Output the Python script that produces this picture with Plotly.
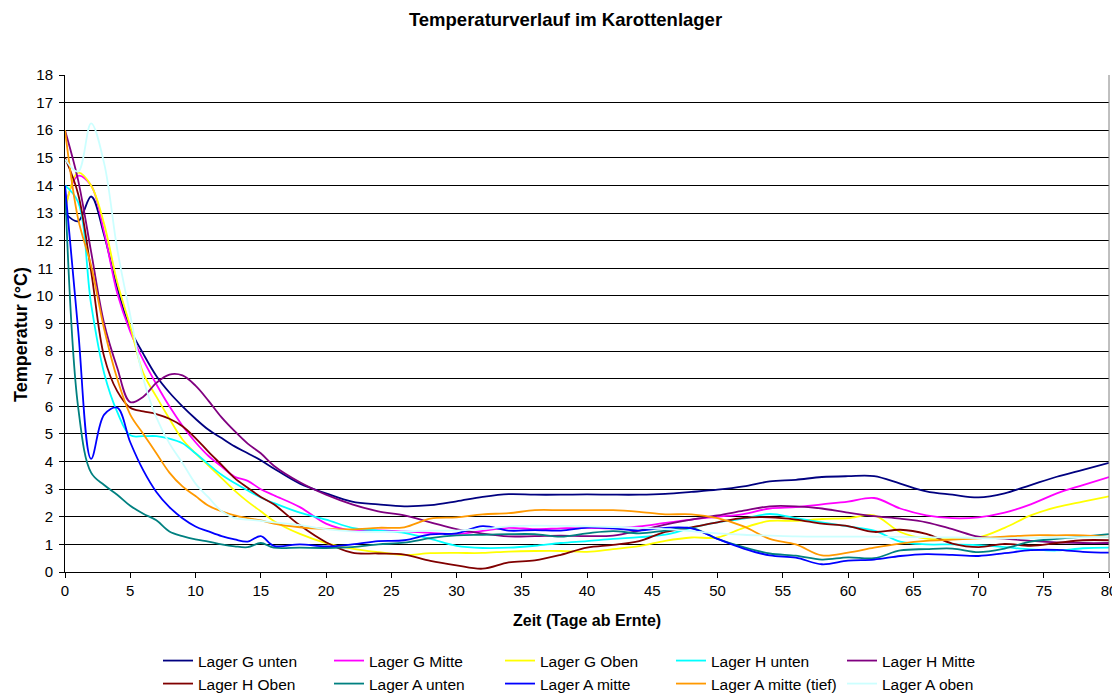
import plotly.graph_objects as go

days = [0, 1, 2, 3, 4, 5, 6, 7, 8, 9, 10, 11, 12, 13, 14, 15, 16,
        18, 20, 22, 24, 26, 28, 30, 32, 34, 36, 38, 40, 42, 44, 46, 48,
        50, 52, 54, 56, 58, 60, 62, 64, 66, 68, 70, 72, 74, 76, 78, 80]

g_unten = [13.0, 12.7, 13.6, 12.2, 10.3, 8.8, 7.9, 7.1, 6.5, 6.0, 5.55, 5.15, 4.85, 4.55, 4.3, 4.05, 3.75,
           3.2, 2.85, 2.55, 2.45, 2.38, 2.42, 2.56, 2.72, 2.82, 2.8, 2.8, 2.81, 2.8, 2.8, 2.83, 2.9,
           2.98, 3.1, 3.28, 3.34, 3.44, 3.47, 3.47, 3.2, 2.92, 2.8, 2.7, 2.85, 3.15, 3.45, 3.7, 3.95]
g_mitte = [13.2, 14.35, 14.0, 12.3, 10.1, 8.7, 7.67, 6.8, 6.0, 5.3, 4.7, 4.2, 3.82, 3.45, 3.3, 3.0, 2.78,
           2.35, 1.75, 1.5, 1.51, 1.47, 1.42, 1.38, 1.49, 1.6, 1.55, 1.58, 1.6, 1.58, 1.65, 1.78, 1.9,
           2.0, 2.1, 2.3, 2.35, 2.45, 2.55, 2.68, 2.3, 2.05, 1.95, 1.98, 2.15, 2.45, 2.85, 3.15, 3.44]
g_oben = [13.05, 14.46, 14.0, 12.6, 10.5, 8.9, 7.2, 6.35, 5.55, 4.8, 4.3, 3.85, 3.4, 2.95, 2.55, 2.2, 1.85,
          1.38, 1.05, 0.85, 0.72, 0.62, 0.68, 0.69, 0.69, 0.74, 0.76, 0.76, 0.73, 0.83, 0.94, 1.13, 1.25,
          1.25, 1.6, 1.85, 1.85, 1.92, 1.95, 2.05, 1.45, 1.21, 1.2, 1.25, 1.6, 2.05, 2.35, 2.55, 2.74]
h_unten = [14.0, 13.4, 9.7, 7.2, 5.8, 4.95, 4.92, 4.92, 4.83, 4.66, 4.3, 3.9, 3.52, 3.22, 2.95, 2.7, 2.5,
           2.15, 1.9, 1.6, 1.5, 1.42, 1.2, 0.95, 0.87, 0.88, 0.95, 1.05, 1.12, 1.2, 1.26, 1.35, 1.6,
           1.8, 1.93, 2.1, 1.95, 1.8, 1.65, 1.5, 1.1, 1.0, 1.0, 0.97, 0.9, 0.82, 0.78, 0.86, 0.88]
h_mitte = [16.0, 14.2, 11.6, 9.0, 7.4, 6.15, 6.35, 6.85, 7.15, 7.12, 6.75, 6.2, 5.6, 5.1, 4.65, 4.3, 3.85,
           3.25, 2.8, 2.45, 2.2, 2.05, 1.8, 1.55, 1.39, 1.29, 1.3, 1.32, 1.3, 1.32, 1.5, 1.72, 1.9,
           2.05, 2.22, 2.38, 2.38, 2.3, 2.15, 2.02, 1.93, 1.8, 1.55, 1.28, 1.21, 1.13, 1.07, 1.05, 1.05]
h_oben = [15.0, 13.7, 10.9, 7.8, 6.55, 5.95, 5.82, 5.72, 5.55, 5.28, 4.85, 4.35, 3.88, 3.4, 3.05, 2.72, 2.45,
          1.69, 1.08, 0.7, 0.67, 0.63, 0.4, 0.24, 0.12, 0.35, 0.42, 0.62, 0.88, 0.98, 1.12, 1.45, 1.62,
          1.8, 1.96, 1.98, 1.9, 1.75, 1.66, 1.45, 1.53, 1.38, 1.03, 0.9, 1.02, 0.95, 1.05, 1.15, 1.15]
a_unten = [14.0, 6.0, 3.6, 3.15, 2.8, 2.4, 2.11, 1.87, 1.47, 1.3, 1.18, 1.1, 1.0, 0.93, 0.9, 1.05, 0.88,
           0.88, 0.87, 0.9, 1.0, 1.06, 1.23, 1.33, 1.35, 1.37, 1.37, 1.28, 1.4, 1.48, 1.4, 1.5, 1.6,
           1.2, 0.9, 0.67, 0.59, 0.45, 0.53, 0.5, 0.78, 0.83, 0.85, 0.72, 0.85, 1.1, 1.2, 1.28, 1.37]
a_mitte = [14.0, 8.8, 4.1, 5.7, 5.95, 4.7, 3.68, 2.9, 2.35, 1.95, 1.65, 1.47, 1.3, 1.18, 1.1, 1.3, 0.95,
           1.0, 0.93, 1.0, 1.12, 1.15, 1.36, 1.4, 1.66, 1.5, 1.52, 1.5, 1.61, 1.58, 1.5, 1.6, 1.58,
           1.2, 0.85, 0.6, 0.52, 0.28, 0.41, 0.45, 0.58, 0.65, 0.62, 0.58, 0.68, 0.79, 0.8, 0.73, 0.7]
a_mitte_tief = [16.0, 12.8, 11.1, 8.8, 7.0, 5.7, 5.0, 4.3, 3.6, 3.1, 2.75, 2.4, 2.2, 2.05, 1.95, 1.87, 1.75,
                1.62, 1.56, 1.54, 1.6, 1.62, 1.93, 1.98, 2.09, 2.13, 2.24, 2.24, 2.24, 2.24, 2.18, 2.09, 2.09,
                1.95, 1.65, 1.2, 1.0, 0.6, 0.7, 0.88, 1.03, 1.13, 1.17, 1.22, 1.28, 1.33, 1.33, 1.33, 1.27]
a_oben = [14.95, 14.5, 16.25, 14.8, 11.7, 9.3, 7.0, 5.6, 4.66, 3.95, 3.2, 2.7, 2.2, 1.95, 1.9, 1.85, 1.8,
          1.7, 1.55, 1.47, 1.45, 1.47, 1.5, 1.5, 1.55, 1.65, 1.68, 1.67, 1.65, 1.63, 1.6, 1.55, 1.48,
          1.4, 1.35, 1.32, 1.29, 1.28, 1.28, 1.28, 1.27, 1.26, 1.25, 1.23, 1.22, 1.23, 1.25, 1.26, 1.27]

names = ["Lager G unten", "Lager G Mitte", "Lager G Oben", "Lager H unten", "Lager H Mitte",
         "Lager H Oben", "Lager A unten", "Lager A mitte", "Lager A mitte (tief)", "Lager A oben"]
series = [g_unten, g_mitte, g_oben, h_unten, h_mitte, h_oben, a_unten, a_mitte, a_mitte_tief, a_oben]
colors = ["#000080", "#FF00FF", "#FFFF00", "#00FFFF", "#800080",
          "#800000", "#008080", "#0000FF", "#FF9900", "#CCFFFF"]

x_ticks = [0, 5, 10, 15, 20, 25, 30, 35, 40, 45, 50, 55, 60, 65, 70, 75, 80]
y_ticks = list(range(0, 19))

FONT = "Liberation Sans, Arial, sans-serif"

fig = go.Figure()
for i, (nm, vals, col) in enumerate(zip(names, series, colors)):
    fig.add_trace(go.Scatter(
        x=days, y=vals, name=nm, mode="lines",
        line=dict(color=col, width=1.8, shape="spline", smoothing=1.0),
        legend="legend" if i < 5 else "legend2",
        hoverinfo="skip",
    ))

# the page is shown with an 8px body margin, so the figure is 8px smaller
OFF = 8
W, H = 1120 - OFF, 695 - OFF
L = 65 - OFF
T = 75 - OFF
R = W - (1109 - OFF)
B = H - (572 - OFF)
pw, ph = W - L - R, H - T - B

def py(page_y):
    return (H - B - (page_y - OFF)) / ph

def px(page_x):
    return (page_x - OFF - L) / pw

leg_common = dict(orientation="h", x=px(158), xanchor="left", yanchor="middle",
                  entrywidth=126, entrywidthmode="pixels", font=dict(size=15.5),
                  bgcolor="rgba(0,0,0,0)", itemwidth=30, borderwidth=0)

fig.update_layout(
    width=W, height=H,
    margin=dict(l=L, r=R, t=T, b=B, autoexpand=False),
    paper_bgcolor="white", plot_bgcolor="white",
    font=dict(family=FONT, size=15, color="black"),
    title=dict(text="<b>Temperaturverlauf im Karottenlager</b>",
               x=(565.5 - OFF) / W, xanchor="center", xref="container",
               y=1 - (20 - OFF) / H, yref="container", yanchor="middle",
               font=dict(size=18.5, family=FONT, color="black")),
    xaxis=dict(range=[0, 80], tickvals=x_ticks, ticks="outside", ticklen=5,
               tickcolor="black", showline=True, linecolor="black", linewidth=1,
               showgrid=False, zeroline=False, tickfont=dict(size=15), automargin=False),
    yaxis=dict(range=[0, 18], tickvals=y_ticks, ticks="outside", ticklen=5,
               tickcolor="black", showline=True, linecolor="black", linewidth=1,
               showgrid=True, gridcolor="black", gridwidth=1, zeroline=False,
               tickfont=dict(size=15), automargin=False, ticklabelstandoff=3),
    legend=dict(y=py(661), **leg_common),
    legend2=dict(y=py(684), **leg_common),
    showlegend=True,
    annotations=[
        dict(text="<b>Zeit (Tage ab Ernte)</b>", x=px(587), xref="paper", y=py(620), yref="paper",
             xanchor="center", yanchor="middle", showarrow=False, font=dict(size=16)),
        dict(text="<b>Temperatur (°C)</b>", x=px(21), xref="paper", y=py(335), yref="paper",
             xanchor="center", yanchor="middle", showarrow=False, textangle=-90, font=dict(size=18)),
    ],
    shapes=[dict(type="line", xref="paper", yref="paper", x0=1, x1=1, y0=0, y1=1,
                 line=dict(color="#808080", width=1))],
)

fig.write_html("out.html")
